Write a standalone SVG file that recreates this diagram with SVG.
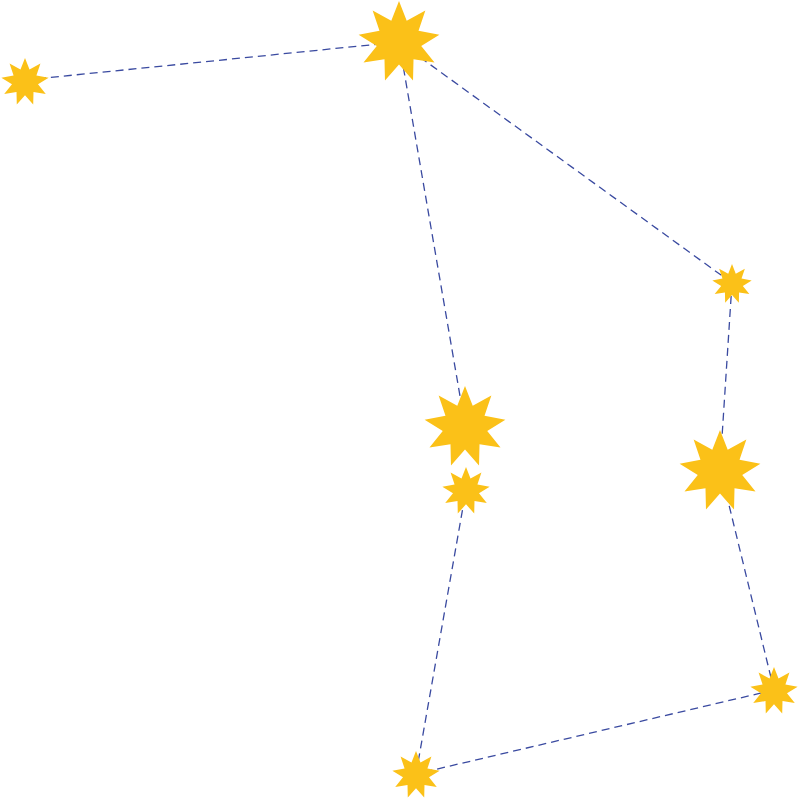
<svg xmlns="http://www.w3.org/2000/svg" xmlns:xlink="http://www.w3.org/1999/xlink" width="800" height="798" viewBox="0 0 800 798">
<style>.c{stroke:#3a4aa0;stroke-width:1.3;stroke-dasharray:8 5;fill:none}.s{fill:#fbc118}</style>
<defs><path id="star" class="s" d="M0,-100 L18.8,-51.7 64.3,-76.6 47.6,-27.5 98.5,-17.4 54.2,9.6 86.6,50 35.4,42.1 34.2,94 0,55 -34.2,94 -35.4,42.1 -86.6,50 -54.2,9.6 -98.5,-17.4 -47.6,-27.5 -64.3,-76.6 -18.8,-51.7Z"/></defs>
<rect width="800" height="798" fill="#fff"/>
<g id="connectors">
<line class="c" x1="25" y1="80" x2="399" y2="42"/>
<line class="c" x1="399" y1="42" x2="465" y2="425"/>
<line class="c" x1="399" y1="42" x2="732" y2="283"/>
<line class="c" x1="732" y1="283" x2="720" y2="468"/>
<line class="c" x1="720" y1="468" x2="774" y2="690"/>
<line class="c" x1="774" y1="690" x2="416" y2="774"/>
<line class="c" x1="416" y1="774" x2="466" y2="490"/>
</g>
<g id="star1"><use xlink:href="#star" transform="translate(25,82) scale(0.24)"/></g>
<g id="star2"><use xlink:href="#star" transform="translate(399,42) scale(0.41)"/></g>
<g id="star3"><use xlink:href="#star" transform="translate(732,284) scale(0.2)"/></g>
<g id="star4"><use xlink:href="#star" transform="translate(465,427) scale(0.41)"/></g>
<g id="star5"><use xlink:href="#star" transform="translate(466,491) scale(0.24)"/></g>
<g id="star6"><use xlink:href="#star" transform="translate(720,471) scale(0.41)"/></g>
<g id="star7"><use xlink:href="#star" transform="translate(774,691) scale(0.24)"/></g>
<g id="star8"><use xlink:href="#star" transform="translate(416,775) scale(0.24)"/></g>
</svg>
